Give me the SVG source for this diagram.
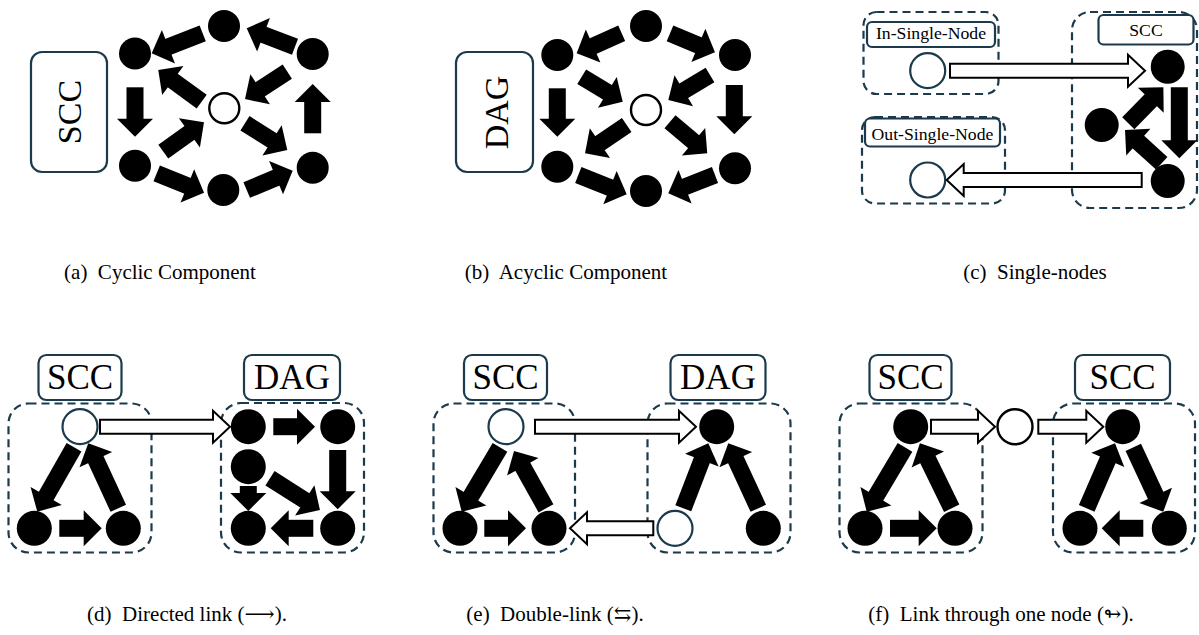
<svg xmlns="http://www.w3.org/2000/svg" width="1199" height="635" viewBox="0 0 1199 635">
<style>
.bn{fill:#000}
.wn{fill:#fff;stroke:#000;stroke-width:2.4}
.wn2{fill:#fff;stroke:#1b3a4b;stroke-width:2.2}
.lbl{fill:#fff;stroke:#1b3a4b;stroke-width:2.2}
.grp{fill:none;stroke:#1b3a4b;stroke-width:2.2;stroke-dasharray:8 5}
.t{font-family:"Liberation Serif","Times New Roman",serif;fill:#000;text-anchor:middle}
.ar{stroke:#000;stroke-width:17;stroke-linecap:butt;fill:none;marker-end:url(#ah)}
.ha{fill:#fff;stroke:#000;stroke-width:2;stroke-linejoin:miter}
.cap{font-family:"Liberation Serif","DejaVu Serif","DejaVu Sans",serif;font-size:21px;text-anchor:middle;fill:#000}
</style>
<defs>
<marker id="ah" markerUnits="userSpaceOnUse" markerWidth="20" markerHeight="36" refX="1" refY="18" orient="auto" overflow="visible">
<path d="M0,0 L18,18 L0,36 Z" fill="#000"/>
</marker>
</defs>
<rect width="1199" height="635" fill="#fff"/>

<!-- Panel (a) -->
<g id="a-label">
<rect class="lbl" x="31" y="52" width="76" height="120" rx="11"/>
<text class="t" font-size="34" transform="translate(69,112) rotate(-90)" y="12">SCC</text>
</g>
<g id="a-nodes">
<circle id="a-n1" class="bn" cx="224" cy="26" r="16"/>
<circle id="a-n2" class="bn" cx="135" cy="53.5" r="16"/>
<circle id="a-n3" class="bn" cx="312.7" cy="54" r="16"/>
<circle id="a-n4" class="wn" cx="224.3" cy="108.3" r="15"/>
<circle id="a-n5" class="bn" cx="135" cy="165.7" r="16"/>
<circle id="a-n6" class="bn" cx="223.3" cy="190" r="16"/>
<circle id="a-n7" class="bn" cx="312.7" cy="167.7" r="16"/>
</g>

<!-- Panel (b) -->
<g id="b-label">
<rect class="lbl" x="456" y="52" width="77" height="120" rx="11"/>
<text class="t" font-size="34" transform="translate(494,112.5) rotate(-90)" y="14">DAG</text>
</g>
<g id="b-nodes">
<circle id="b-n1" class="bn" cx="646" cy="26" r="16"/>
<circle id="b-n2" class="bn" cx="557.3" cy="55" r="16"/>
<circle id="b-n3" class="bn" cx="735" cy="55" r="16"/>
<circle id="b-n4" class="wn" cx="646" cy="110" r="15"/>
<circle id="b-n5" class="bn" cx="557.3" cy="166.7" r="16"/>
<circle id="b-n6" class="bn" cx="646" cy="191" r="16"/>
<circle id="b-n7" class="bn" cx="735" cy="168.3" r="16"/>
</g>

<!-- Panel (c) -->
<g id="c-in">
<rect class="grp" x="863.5" y="12" width="135" height="82" rx="13"/>
<rect class="lbl" x="867" y="22" width="128" height="25" rx="5"/>
<text class="t" font-size="17.7" x="931" y="38.5">In-Single-Node</text>
<circle id="c-in-node" class="wn2" cx="927.7" cy="70.7" r="17.5"/>
</g>
<g id="c-out">
<rect class="grp" x="862" y="117" width="143" height="86.5" rx="13"/>
<rect class="lbl" x="865" y="118.5" width="135" height="28" rx="5"/>
<text class="t" font-size="17.7" x="932.5" y="140">Out-Single-Node</text>
<circle id="c-out-node" class="wn2" cx="927.7" cy="180" r="17.5"/>
</g>
<g id="c-scc">
<rect class="grp" x="1072" y="12" width="125" height="196" rx="18"/>
<rect class="lbl" x="1098.5" y="15" width="95" height="29.5" rx="5"/>
<text class="t" font-size="17.7" x="1146" y="35.5">SCC</text>
<circle id="c-s1" class="bn" cx="1167.7" cy="66.7" r="17"/>
<circle id="c-s2" class="bn" cx="1101.7" cy="125" r="17"/>
<circle id="c-s3" class="bn" cx="1167.7" cy="181" r="17"/>
</g>

<!-- Panel (d) -->
<g id="d-scc">
<rect class="grp" x="8.5" y="403.5" width="143" height="149" rx="20"/>
<rect class="lbl" x="38.5" y="355" width="83" height="45" rx="8"/>
<text class="t" font-size="35" x="80" y="388.5">SCC</text>
<circle id="d-s1" class="wn2" cx="80" cy="426.7" r="17.5"/>
<circle id="d-s2" class="bn" cx="34.3" cy="528.3" r="17.5"/>
<circle id="d-s3" class="bn" cx="123.3" cy="528.3" r="17.5"/>
</g>
<g id="d-dag">
<rect class="grp" x="221" y="403" width="143" height="149.5" rx="20"/>
<rect class="lbl" x="244" y="355" width="96" height="45" rx="8"/>
<text class="t" font-size="35" x="292" y="388.5">DAG</text>
<circle id="d-g1" class="bn" cx="248.3" cy="426.7" r="17.5"/>
<circle id="d-g2" class="bn" cx="337.7" cy="426.7" r="17.5"/>
<circle id="d-g3" class="bn" cx="248.3" cy="466.7" r="17.5"/>
<circle id="d-g4" class="bn" cx="248.3" cy="528.3" r="17.5"/>
<circle id="d-g5" class="bn" cx="337.7" cy="528.3" r="17.5"/>
</g>

<!-- Panel (e) -->
<g id="e-scc">
<rect class="grp" x="433.5" y="403.5" width="141.5" height="149" rx="20"/>
<rect class="lbl" x="464" y="355" width="83" height="45" rx="8"/>
<text class="t" font-size="35" x="505.5" y="388.5">SCC</text>
<circle id="e-s1" class="wn2" cx="506" cy="426.7" r="17.5"/>
<circle id="e-s2" class="bn" cx="460" cy="528.3" r="17.5"/>
<circle id="e-s3" class="bn" cx="549" cy="528.3" r="17.5"/>
</g>
<g id="e-dag">
<rect class="grp" x="647.5" y="403.5" width="143" height="149" rx="20"/>
<rect class="lbl" x="670.5" y="355" width="95" height="45" rx="8"/>
<text class="t" font-size="35" x="718" y="388.5">DAG</text>
<circle id="e-g1" class="bn" cx="716.7" cy="426.7" r="17.5"/>
<circle id="e-g2" class="wn2" cx="675" cy="528.3" r="17.5"/>
<circle id="e-g3" class="bn" cx="763.3" cy="528.3" r="17.5"/>
</g>

<!-- Panel (f) -->
<g id="f-scc1">
<rect class="grp" x="839.5" y="403.5" width="143" height="149" rx="20"/>
<rect class="lbl" x="869.5" y="355" width="82" height="45" rx="8"/>
<text class="t" font-size="35" x="910.5" y="388.5">SCC</text>
<circle id="f-a1" class="bn" cx="910.7" cy="426.7" r="17.5"/>
<circle id="f-a2" class="bn" cx="865" cy="528.3" r="17.5"/>
<circle id="f-a3" class="bn" cx="955" cy="528.3" r="17.5"/>
</g>
<g id="f-mid">
<circle id="f-m" class="wn" cx="1015" cy="426.7" r="17.5"/>
</g>
<g id="f-scc2">
<rect class="grp" x="1053" y="403.5" width="142" height="149" rx="20"/>
<rect class="lbl" x="1075" y="355" width="95" height="45" rx="8"/>
<text class="t" font-size="35" x="1122.5" y="388.5">SCC</text>
<circle id="f-b1" class="bn" cx="1122.7" cy="426.7" r="17.5"/>
<circle id="f-b2" class="bn" cx="1080" cy="528.3" r="17.5"/>
<circle id="f-b3" class="bn" cx="1169.3" cy="528.3" r="17.5"/>
</g>

<!-- Connectors -->
<g id="connectors">
<line class="ar" x1="202.7" y1="33.3" x2="167.5" y2="47.1"/>
<line class="ar" x1="295" y1="46.7" x2="262.6" y2="34.4"/>
<line class="ar" x1="287.3" y1="71.7" x2="259.3" y2="89.8"/>
<line class="ar" x1="201.7" y1="101.7" x2="172" y2="80"/>
<line class="ar" x1="135" y1="87.3" x2="135" y2="119.7"/>
<line class="ar" x1="163.3" y1="151.7" x2="190.2" y2="132.3"/>
<line class="ar" x1="245" y1="123.3" x2="272.9" y2="140.9"/>
<line class="ar" x1="312.7" y1="133.3" x2="312.7" y2="101"/>
<line class="ar" x1="156.7" y1="173.3" x2="188.3" y2="186.2"/>
<line class="ar" x1="246.7" y1="190" x2="277" y2="177.3"/>

<line class="ar" x1="621.7" y1="33.3" x2="592.2" y2="46.4"/>
<line class="ar" x1="670" y1="33.3" x2="699.3" y2="45.7"/>
<line class="ar" x1="581.7" y1="76.7" x2="608.2" y2="92.8"/>
<line class="ar" x1="710" y1="75" x2="682.9" y2="91.3"/>
<line class="ar" x1="557.3" y1="88.3" x2="557.3" y2="119.7"/>
<line class="ar" x1="734.3" y1="85" x2="734.3" y2="117.3"/>
<line class="ar" x1="626.7" y1="125" x2="599.1" y2="143.7"/>
<line class="ar" x1="670" y1="121.7" x2="694.3" y2="142.3"/>
<line class="ar" x1="578.3" y1="175" x2="610.9" y2="188"/>
<line class="ar" x1="715" y1="175" x2="684.1" y2="187.1"/>

<polygon class="ha" points="950,63.7 1128,63.7 1128,54.7 1145,70.7 1128,86.7 1128,77.7 950,77.7"/>
<polygon class="ha" points="1141.7,173 963.7,173 963.7,164 946.7,180 963.7,196 963.7,187 1141.7,187"/>
<line class="ar" x1="1179.3" y1="87.3" x2="1179.3" y2="141.3"/>
<line class="ar" x1="1161.7" y1="163.3" x2="1137.6" y2="141.4"/>
<line class="ar" x1="1128.3" y1="123.3" x2="1151.5" y2="99.5"/>

<line class="ar" x1="74" y1="447.3" x2="45.7" y2="496.9"/>
<line class="ar" x1="118.3" y1="508.3" x2="95.4" y2="458.7"/>
<line class="ar" x1="59.3" y1="528.3" x2="84.7" y2="528.3"/>
<polygon class="ha" points="100,419.7 213,419.7 213,410.7 230,426.7 213,442.7 213,433.7 100,433.7"/>
<line class="ar" x1="273.3" y1="426.7" x2="298" y2="426.7"/>
<line class="ar" x1="337.7" y1="450" x2="337.7" y2="492.3"/>
<line class="ar" x1="248.3" y1="486" x2="248.3" y2="494"/>
<line class="ar" x1="270" y1="478.3" x2="305.6" y2="500.9"/>
<line class="ar" x1="313.3" y1="528.3" x2="287.7" y2="528.3"/>

<line class="ar" x1="500" y1="447.3" x2="470.4" y2="497.1"/>
<line class="ar" x1="546" y1="508.3" x2="522.3" y2="465.8"/>
<line class="ar" x1="484.3" y1="528.3" x2="509" y2="528.3"/>
<polygon class="ha" points="535,419.7 679,419.7 679,410.7 696,426.7 679,442.7 679,433.7 535,433.7"/>
<line class="ar" x1="683.3" y1="508.3" x2="702.2" y2="459.2"/>
<line class="ar" x1="758.3" y1="508.3" x2="735.4" y2="458.7"/>
<polygon class="ha" points="653.3,521.3 587,521.3 587,512.3 570,528.3 587,544.3 587,535.3 653.3,535.3"/>

<line class="ar" x1="905" y1="447.3" x2="875.4" y2="497.1"/>
<line class="ar" x1="951.7" y1="508.3" x2="927.4" y2="458.6"/>
<line class="ar" x1="890" y1="528.3" x2="919.7" y2="528.3"/>
<polygon class="ha" points="931,419.7 978,419.7 978,410.7 995,426.7 978,442.7 978,433.7 931,433.7"/>
<polygon class="ha" points="1038.3,419.7 1086.3,419.7 1086.3,410.7 1103.3,426.7 1086.3,442.7 1086.3,433.7 1038.3,433.7"/>
<line class="ar" x1="1086.7" y1="508.3" x2="1108.2" y2="458.9"/>
<line class="ar" x1="1133.3" y1="447.3" x2="1156.1" y2="496.3"/>
<line class="ar" x1="1143.3" y1="528.3" x2="1118.7" y2="528.3"/>
</g>

<!-- Captions -->
<g id="captions">
<text class="cap" x="160" y="279" xml:space="preserve">(a)  Cyclic Component</text>
<text class="cap" x="566" y="279" xml:space="preserve">(b)  Acyclic Component</text>
<text class="cap" x="1035" y="279" xml:space="preserve">(c)  Single-nodes</text>
<text class="cap" x="187" y="621" xml:space="preserve">(d)  Directed link (⟶).</text>
<text class="cap" x="555" y="621" xml:space="preserve">(e)  Double-link (⇆).</text>
<text class="cap" x="1001" y="621" xml:space="preserve">(f)  Link through one node (↬).</text>
</g>
</svg>
